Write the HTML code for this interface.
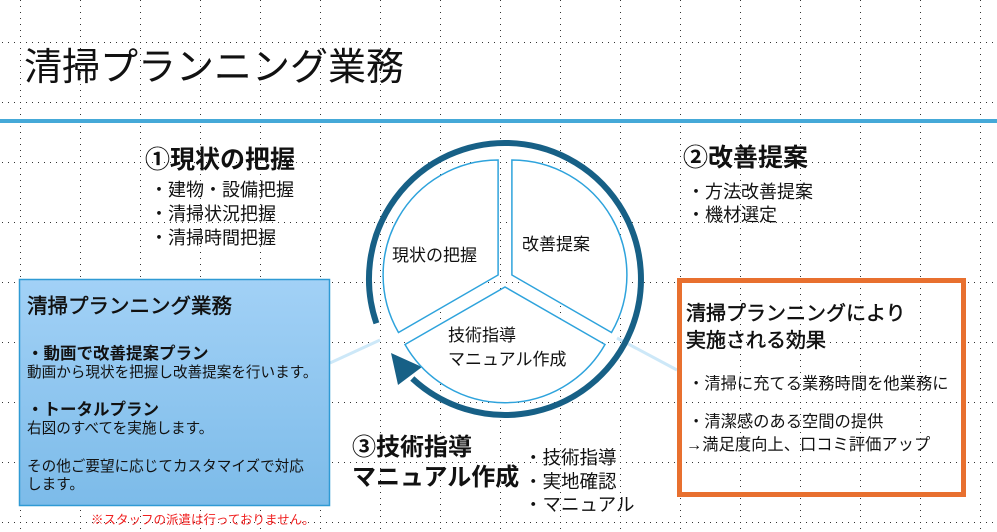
<!DOCTYPE html>
<html><head><meta charset="utf-8"><style>
html,body{margin:0;padding:0;background:#fff;}
svg{display:block;font-family:"Liberation Sans","Noto Sans CJK JP",sans-serif;}
</style></head><body>
<svg width="997" height="532" viewBox="0 0 997 532" xmlns="http://www.w3.org/2000/svg">
<defs>
<pattern id="g" width="60" height="60" patternUnits="userSpaceOnUse" x="20" y="42">
<line x1="0.5" y1="0" x2="0.5" y2="60" stroke="#333" stroke-width="1" stroke-dasharray="1 5"/>
<line x1="0" y1="0.5" x2="60" y2="0.5" stroke="#333" stroke-width="1" stroke-dasharray="1 5"/>
</pattern>
<linearGradient id="lb" x1="0" y1="0" x2="0" y2="1">
<stop offset="0" stop-color="#a2d1f6"/><stop offset="1" stop-color="#7cbbe9"/>
</linearGradient>
</defs>
<rect width="997" height="532" fill="url(#g)"/>
<rect x="0" y="119" width="997" height="4" fill="#45a9d8"/>
<text x="24" y="80" font-size="38" fill="#111">清掃プランニング業務</text>

<!-- connectors -->
<line x1="330" y1="363" x2="380" y2="340" stroke="#cde8f8" stroke-width="3"/>
<line x1="617" y1="338" x2="677" y2="370" stroke="#cde8f8" stroke-width="3"/>

<!-- ring -->
<path d="M 376.4 323.3 A 136 136 0 1 1 412.3 378.5" fill="none" stroke="#176086" stroke-width="6"/>
<polygon points="391,353 398,385 422,367" fill="#176086"/>

<!-- sectors -->
<g fill="#fff" stroke="#2ea3dc" stroke-width="1.5">
<path d="M 498.1 275 L 498.1 160 A 115 115 0 0 0 398.5 332.5 Z"/>
<path d="M 511.9 275 L 511.9 160 A 115 115 0 0 1 611.5 332.5 Z"/>
<path d="M 505 287 L 605 344.5 A 115 115 0 0 1 405 344.5 Z"/>
</g>
<g font-size="17" fill="#111">
<text x="392" y="261">現状の把握</text>
<text x="522" y="250">改善提案</text>
<text x="448" y="341">技術指導</text>
<text x="448" y="365">マニュアル作成</text>
</g>

<!-- ① -->
<text x="145" y="168" font-size="25" font-weight="bold" fill="#111">①現状の把握</text>
<g font-size="18" fill="#111">
<text x="150" y="196">・建物・設備把握</text>
<text x="150" y="220">・清掃状況把握</text>
<text x="150" y="244">・清掃時間把握</text>
</g>
<!-- ② -->
<text x="683" y="166" font-size="25" font-weight="bold" fill="#111">②改善提案</text>
<g font-size="18" fill="#111">
<text x="687" y="198">・方法改善提案</text>
<text x="687" y="221">・機材選定</text>
</g>
<!-- ③ -->
<text x="352" y="455" font-size="24" font-weight="bold" fill="#111">③技術指導</text>
<text x="352" y="485" font-size="24" font-weight="bold" fill="#111">マニュアル作成</text>
<g font-size="18.5" fill="#111">
<text x="524" y="464">・技術指導</text>
<text x="524" y="488">・実地確認</text>
<text x="524" y="511">・マニュアル</text>
</g>

<!-- left box -->
<rect x="19.5" y="279.5" width="310" height="226" fill="url(#lb)" stroke="#2f9ad4" stroke-width="1.5"/>
<text x="27" y="313" font-size="20.5" fill="#111" stroke="#111" stroke-width="0.5">清掃プランニング業務</text>
<text x="27" y="359" font-size="16.5" font-weight="bold" fill="#111">・動画で改善提案プラン</text>
<text x="27" y="377" font-size="14.6" fill="#111">動画から現状を把握し改善提案を行います。</text>
<text x="27" y="415" font-size="16.5" font-weight="bold" fill="#111">・トータルプラン</text>
<text x="27" y="433" font-size="14.6" fill="#111">右図のすべてを実施します。</text>
<text x="27" y="471" font-size="14.6" fill="#111">その他ご要望に応じてカスタマイズで対応</text>
<text x="27" y="489" font-size="14.6" fill="#111">します。</text>
<text x="91" y="524" font-size="12.5" fill="#f02020">※スタッフの派遣は行っておりません。</text>

<!-- orange box -->
<rect x="679.5" y="280.5" width="284" height="214" fill="none" stroke="#e8702f" stroke-width="5"/>
<text x="686" y="320" font-size="20" fill="#111" stroke="#111" stroke-width="0.5">清掃プランニングにより</text>
<text x="686" y="347" font-size="20" fill="#111" stroke="#111" stroke-width="0.5">実施される効果</text>
<text x="688" y="389" font-size="16.3" fill="#111">・清掃に充てる業務時間を他業務に</text>
<text x="688" y="427" font-size="16.3" fill="#111">・清潔感のある空間の提供</text>
<text x="686" y="450" font-size="16.3" fill="#111">→満足度向上、口コミ評価アップ</text>
</svg>
</body></html>
